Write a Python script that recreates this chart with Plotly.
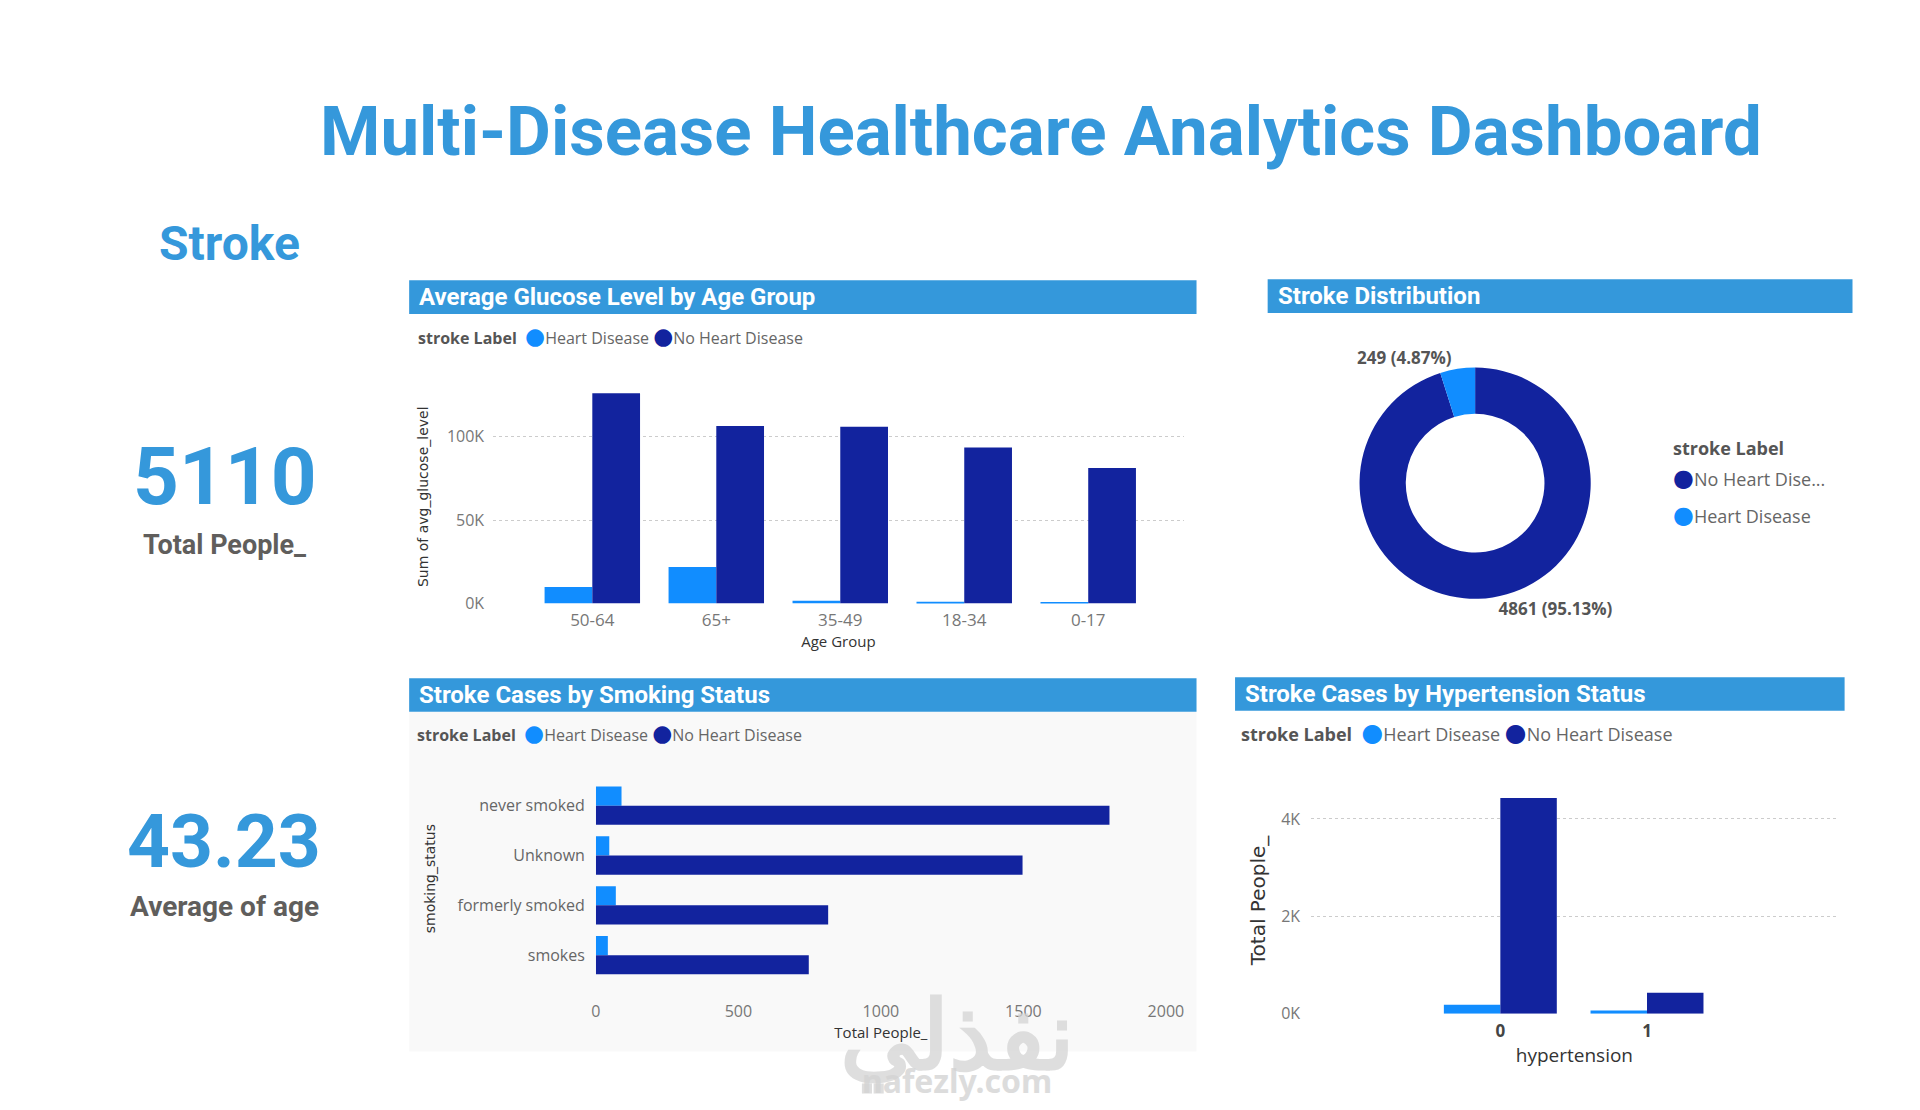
import plotly.graph_objects as go

# ---- data ----
AGE_GROUPS = ["50-64", "65+", "35-49", "18-34", "0-17"]
GLUCOSE_HEART = [9800, 21900, 1600, 1000, 900]
GLUCOSE_NO_HEART = [126100, 106400, 106000, 93600, 81300]

STROKE_LABELS = ["No Heart Disease", "Heart Disease"]
STROKE_COUNTS = [4861, 249]

SMOKING_STATUS = ["never smoked", "Unknown", "formerly smoked", "smokes"]
SMOKING_HEART = [90, 47, 70, 42]
SMOKING_NO_HEART = [1802, 1497, 815, 747]

HYPERTENSION = ["0", "1"]
HYPER_HEART = [183, 66]
HYPER_NO_HEART = [4429, 432]

TOTAL_PEOPLE = "5110"
AVERAGE_AGE = "43.23"

GLUCOSE_TICKS = [0, 50000, 100000]
GLUCOSE_TICKTEXT = ["0K", "50K", "100K"]
HYPER_TICKS = [0, 2000, 4000]
HYPER_TICKTEXT = ["0K", "2K", "4K"]
SMOKING_TICKS = [0, 500, 1000, 1500, 2000]

# ---- style ----
# page body keeps its default 8px margin, so the figure is 16px smaller than the window
PAGE_W, PAGE_H = 1920, 1110
OFF = 8
W, H = PAGE_W - 2 * OFF, PAGE_H - 2 * OFF
BLUE = "#3598DB"
HEADER = "#3498DB"
LIGHT = "#118DFF"
DARK = "#12239E"
GREY = "#605E5C"
TITLE_FONT = "Roboto"
BODY_FONT = "Open Sans"


def px(x):
    return (x - OFF) / W


def py(y):
    return 1 - (y - OFF) / H


fig = go.Figure()

# glucose by age group
fig.add_trace(go.Bar(x=AGE_GROUPS, y=GLUCOSE_HEART, name="Heart Disease", marker_color=LIGHT,
                     marker_line_width=0, xaxis="x", yaxis="y"))
fig.add_trace(go.Bar(x=AGE_GROUPS, y=GLUCOSE_NO_HEART, name="No Heart Disease", marker_color=DARK,
                     marker_line_width=0, xaxis="x", yaxis="y"))

# smoking status (horizontal)
fig.add_trace(go.Bar(y=SMOKING_STATUS, x=SMOKING_HEART, orientation="h", name="Heart Disease",
                     marker_color=LIGHT, marker_line_width=0, xaxis="x2", yaxis="y2"))
fig.add_trace(go.Bar(y=SMOKING_STATUS, x=SMOKING_NO_HEART, orientation="h", name="No Heart Disease",
                     marker_color=DARK, marker_line_width=0, xaxis="x2", yaxis="y2"))

# hypertension
fig.add_trace(go.Bar(x=HYPERTENSION, y=HYPER_HEART, name="Heart Disease", marker_color=LIGHT,
                     marker_line_width=0, xaxis="x3", yaxis="y3"))
fig.add_trace(go.Bar(x=HYPERTENSION, y=HYPER_NO_HEART, name="No Heart Disease", marker_color=DARK,
                     marker_line_width=0, xaxis="x3", yaxis="y3"))

# donut
fig.add_trace(go.Pie(
    labels=STROKE_LABELS, values=STROKE_COUNTS, hole=0.6, sort=False, direction="clockwise",
    rotation=0, marker=dict(colors=[DARK, LIGHT]),
    texttemplate="%{value} (%{percent:.2%})", textposition="outside",
    textfont=dict(family=BODY_FONT, size=17, color="#555555", weight="bold"),
    domain=dict(x=[px(1371), px(1605)], y=[py(605), py(371)]),
))

# ---- annotations / headers ----
annotations = []
shapes = []


def add_text(text, x, y, size, color, xanchor="center", family=TITLE_FONT, bold=True, opacity=1.0):
    annotations.append(dict(
        text=f"<b>{text}</b>" if bold else text, x=px(x), y=py(y), xref="paper", yref="paper",
        xanchor=xanchor, yanchor="middle", showarrow=False, opacity=opacity,
        font=dict(family=family, size=size, color=color),
    ))


def dot(color, size):
    return f"<span style='font-family:DejaVu Sans;color:{color};font-size:{size}px'>●</span>"


def legend_row(x, y, size, items):
    text = "<span style='color:#555555'><b>stroke Label</b></span>  "
    text += " ".join(f"{dot(c, size + 7)}{name}" for name, c in items)
    add_text(text, x, y, size, "#666666", xanchor="left", family=BODY_FONT, bold=False)


add_text("Multi-Disease Healthcare Analytics Dashboard", 1049, 133, 69, BLUE)
add_text("Stroke", 227, 246, 48, BLUE)
add_text(TOTAL_PEOPLE, 223, 482, 80, BLUE)
add_text("Total People_", 222, 550, 27, GREY)
add_text(AVERAGE_AGE, 222, 849, 75, BLUE)
add_text("Average of age", 222, 916, 28, GREY)

# light panel behind the smoking chart
shapes.append(dict(type="rect", xref="paper", yref="paper", x0=px(409), x1=px(1206),
                   y0=py(1062), y1=py(719), fillcolor="#f9f9f9", line_width=0, layer="below"))

for title, x0, x1, y0, y1 in [
    ("Average Glucose Level by Age Group", 409, 1206, 283, 317),
    ("Stroke Distribution", 1278, 1870, 282, 316),
    ("Stroke Cases by Smoking Status", 409, 1206, 685, 719),
    ("Stroke Cases by Hypertension Status", 1245, 1862, 684, 718),
]:
    shapes.append(dict(type="rect", xref="paper", yref="paper", x0=px(x0), x1=px(x1),
                       y0=py(y1), y1=py(y0), fillcolor=HEADER, line_width=0, layer="below"))
    add_text(title, x0 + 8, (y0 + y1) / 2, 24, "white", xanchor="left")

series = [("Heart Disease", LIGHT), ("No Heart Disease", DARK)]
legend_row(416, 339, 16, series)
legend_row(415, 740, 16, series)
legend_row(1249, 740, 18, series)

# donut legend (vertical)
add_text("<span style='color:#555555'><b>stroke Label</b></span>", 1686, 452, 18, "#555555",
         xanchor="left", family=BODY_FONT, bold=False)
add_text(f"{dot(DARK, 24)}No Heart Dise...", 1686, 483, 18, "#666666", xanchor="left",
         family=BODY_FONT, bold=False)
add_text(f"{dot(LIGHT, 24)}Heart Disease", 1686, 520, 18, "#666666", xanchor="left",
         family=BODY_FONT, bold=False)

# watermark
add_text("نفذلي", 964, 1042, 96, "#d4d4d4", opacity=0.75, family="Noto Sans")
add_text("nafezly.com", 964, 1091, 32, "#d4d4d4", opacity=0.8, family="Noto Sans")

tick_font = dict(family=BODY_FONT, size=16, color="#777777")
axis_title_font = dict(family="DejaVu Sans", size=14, color="#333333")

fig.update_layout(
    width=W, height=H,
    margin=dict(l=0, r=0, t=0, b=0),
    paper_bgcolor="white", plot_bgcolor="rgba(0,0,0,0)",
    showlegend=False,
    barmode="group", bargap=0.23, bargroupgap=0,
    annotations=annotations, shapes=shapes,
    xaxis=dict(domain=[px(494), px(1193)], range=[-0.8, 4.77], type="category",
               showgrid=False, zeroline=False, showline=False,
               tickfont=dict(family=BODY_FONT, size=17, color="#777777"), ticklabelstandoff=5,
               title=dict(text="Age Group", font=dict(family=BODY_FONT, size=15, color="#333333"), standoff=6)),
    yaxis=dict(domain=[py(609.5), py(394)], range=[0, 128000], tickvals=GLUCOSE_TICKS,
               ticktext=GLUCOSE_TICKTEXT, showgrid=True, gridcolor="#cccccc", griddash="dot",
               zeroline=False, tickfont=tick_font, ticklabelstandoff=8,
               title=dict(text="Sum of avg_glucose_level", font=axis_title_font, standoff=14)),
    xaxis2=dict(domain=[px(598), px(1175)], range=[0, 2000], tickvals=SMOKING_TICKS,
                showgrid=False, zeroline=False, tickfont=tick_font, anchor="y2", ticklabelstandoff=10,
                title=dict(text="Total People_", font=dict(family=BODY_FONT, size=15, color="#333333"), standoff=4)),
    yaxis2=dict(domain=[py(1000), py(775)], range=[3.7, -0.77], type="category", anchor="x2",
                showgrid=False, zeroline=False, ticklabelstandoff=10,
                tickfont=dict(family=BODY_FONT, size=16, color="#666666"),
                title=dict(text="smoking_status", font=axis_title_font, standoff=18)),
    xaxis3=dict(domain=[px(1322), px(1855)], range=[-1.29, 2.3], type="category", anchor="y3",
                showgrid=False, zeroline=False, ticklabelstandoff=5,
                tickfont=dict(family=BODY_FONT, size=17, color="#444444", weight="bold"),
                title=dict(text="hypertension", font=dict(family=BODY_FONT, size=19, color="#333333"), standoff=7)),
    yaxis3=dict(domain=[py(1024), py(795)], range=[0, 4653], tickvals=HYPER_TICKS,
                ticktext=HYPER_TICKTEXT, anchor="x3", showgrid=True, gridcolor="#cccccc",
                griddash="dot", zeroline=False, tickfont=tick_font, ticklabelstandoff=10,
                title=dict(text="Total People_", font=dict(family="DejaVu Sans", size=20, color="#333333"), standoff=10)),
)

fig.write_html("out.html")
